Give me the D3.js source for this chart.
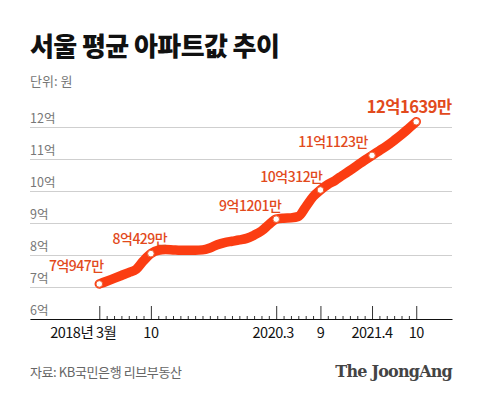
<!DOCTYPE html>
<html>
<head>
<meta charset="utf-8">
<script src="https://cdn.jsdelivr.net/npm/d3@7"></script>
<style>
  body { margin: 0; background: #fff; }
  text { font-family: 'Noto Sans CJK KR', 'Noto Sans', sans-serif; }
</style>
</head>
<body>
<div id="chart"></div>
<script>
// monthly average, 2018.3 -> 2021.10 (unit: 억 원)
const values = [
  7.0947, 7.18, 7.27, 7.36, 7.45, 7.55, 7.82, 8.0429,
  8.15, 8.17, 8.16, 8.15, 8.15, 8.15, 8.16, 8.22, 8.32, 8.39,
  8.43, 8.47, 8.52, 8.62, 8.75, 8.95, 9.1201,
  9.15, 9.16, 9.2, 9.5, 9.82, 10.0312,
  10.2, 10.33, 10.49, 10.64, 10.8, 10.96, 11.1123,
  11.26, 11.41, 11.58, 11.76, 11.96, 12.1639
]
const labelIdx = [0, 7, 24, 30, 37, 43]
const labelText = ['7억947만', '8억429만', '9억1201만', '10억312만', '11억1123만', '12억1639만']
const tickIdx = [0, 7, 24, 30, 37, 43]
const tickText = ['2018년 3월', '10', '2020.3', '9', '2021.4', '10']
const yTicks = [6, 7, 8, 9, 10, 11, 12]

const width = 480, height = 397
const margin = {top: 127, right: 28, bottom: 78, left: 30}

const svg = d3.select('#chart').append('svg')
  .attr('width', width)
  .attr('height', height)

svg.append('text')
  .attr('x', 30).attr('y', 56)
  .attr('font-size', 26).attr('font-weight', 900)
  .attr('letter-spacing', -0.6)
  .attr('fill', '#111')
  .text('서울 평균 아파트값 추이')
svg.append('text')
  .attr('x', 30).attr('y', 86)
  .attr('font-size', 13).attr('fill', '#777')
  .text('단위: 원')

const xScale = d3.scaleLinear()
  .domain([-9.4, 47.85])
  .range([margin.left, width - margin.right])
const yScale = d3.scaleLinear()
  .domain([6, 12])
  .range([height - margin.bottom, margin.top])

// gridlines + y labels
const yAxis = d3.axisRight(yScale)
  .tickValues(yTicks)
  .tickSize(width - margin.left - margin.right)
  .tickFormat(d => d + '억')
const gy = svg.append('g')
  .attr('transform', `translate(${margin.left},0)`)
  .call(yAxis)
gy.select('.domain').remove()
gy.selectAll('.tick line').attr('stroke', '#cfcfcf')
gy.selectAll('.tick text')
  .attr('x', 0).attr('dy', -5)
  .attr('text-anchor', 'start')
  .attr('font-size', 12.5)
  .attr('fill', '#777')

// x axis with monthly minor ticks
const months = d3.range(0, values.length)
const xAxis = d3.axisBottom(xScale)
  .tickValues(months)
  .tickSize(-13)
  .tickSizeOuter(0)
  .tickFormat('')
const gx = svg.append('g')
  .attr('transform', `translate(0,${height - margin.bottom})`)
  .call(xAxis)
gx.select('.domain').attr('stroke', '#111')
gx.selectAll('.tick line')
  .attr('stroke', '#333')
  .attr('y2', d => tickIdx.includes(d) ? -13 : -3)

svg.append('g').selectAll('text')
  .data(tickIdx)
  .join('text')
  .attr('x', (d, i) => xScale(d) + (i === 0 ? -16 : (i === 2 ? -3 : 0)))
  .attr('y', 338)
  .attr('text-anchor', 'middle')
  .attr('font-size', 14.5)
  .attr('letter-spacing', -0.5)
  .attr('fill', '#111')
  .text((d, i) => tickText[i])

// line
const line = d3.line()
  .x((d, i) => xScale(i))
  .y(d => yScale(d))
  .curve(d3.curveMonotoneX)
svg.append('path')
  .datum(values)
  .attr('fill', 'none')
  .attr('stroke', '#fb3d12')
  .attr('stroke-width', 9.5)
  .attr('stroke-linecap', 'round')
  .attr('stroke-linejoin', 'round')
  .attr('d', line)

svg.append('g').selectAll('circle')
  .data(labelIdx)
  .join('circle')
  .attr('cx', d => xScale(d))
  .attr('cy', d => yScale(values[d]))
  .attr('r', 3.3)
  .attr('fill', '#fff')
  .attr('stroke', '#f06030')
  .attr('stroke-width', 1)

// value labels
const labelDx = [-23, -11, -26, -29, -39, -7]
const labelDy = [-13, -10, -8, -8, -8, -9]
svg.append('g').selectAll('text')
  .data(labelIdx)
  .join('text')
  .attr('x', (d, i) => xScale(d) + labelDx[i])
  .attr('y', (d, i) => yScale(values[d]) + labelDy[i])
  .attr('text-anchor', 'middle')
  .attr('font-size', (d, i) => i === 5 ? 16.5 : 14)
  .attr('font-weight', (d, i) => i === 5 ? 700 : 500)
  .attr('letter-spacing', -0.5)
  .attr('fill', '#e24a1c')
  .text((d, i) => labelText[i])

// footer
svg.append('text')
  .attr('x', 30).attr('y', 377)
  .attr('font-size', 13).attr('fill', '#666')
  .attr('letter-spacing', -0.4)
  .text('자료: KB국민은행 리브부동산')
svg.append('text')
  .attr('x', 452).attr('y', 377)
  .attr('text-anchor', 'end')
  .style('font-family', "'DejaVu Serif', 'Liberation Serif', serif")
  .attr('font-size', 16).attr('font-weight', 700)
  .attr('letter-spacing', -0.8)
  .attr('fill', '#444')
  .text('The JoongAng')
</script>
</body>
</html>
